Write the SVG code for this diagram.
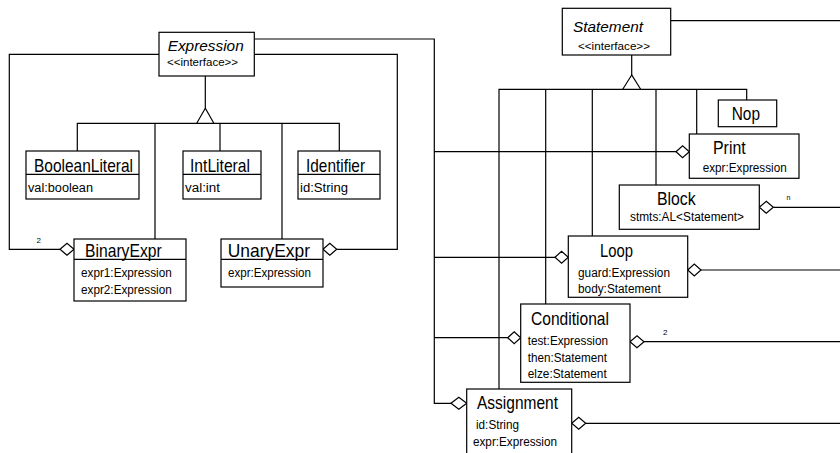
<svg xmlns="http://www.w3.org/2000/svg" width="840" height="453" viewBox="0 0 840 453">
<style>
.bg{fill:#fff}
.box{fill:#fff;stroke:#000;stroke-width:1.2}
.ln{fill:none;stroke:#000;stroke-width:1.2}
.dia{fill:#fff;stroke:#000;stroke-width:1.2}
.tri{fill:#fff;stroke:#000;stroke-width:1.2}
text{font-family:"Liberation Sans",Arial,sans-serif;fill:#000}
.t{font-size:19px}
.it{font-size:15.5px;font-style:italic}
.st{font-size:11.5px}
.a{font-size:12.5px}
.m{font-size:8px}
</style>
<rect class="bg" x="0" y="0" width="840" height="453"/>
<g id="connectors">
  <!-- Expression generalization -->
  <path class="ln" d="M205.3,76 V108.3 M77.3,151 V123.3 H339.3 V151 M155,123.3 V239 M220,123.3 V151 M282,123.3 V239"/>
  <polygon class="tri" points="205.3,108.3 196.7,123.3 213.9,123.3"/>
  <!-- BinaryExpr aggregation -->
  <path class="ln" d="M159,54.3 H9.3 V249.3 H60"/>
  <polygon class="dia" points="60,249.3 67,243.3 74,249.3 67,255.3"/>
  <text class="m" x="36.5" y="243">2</text>
  <!-- UnaryExpr aggregation -->
  <path class="ln" d="M254.3,54.3 H397.3 V249.3 H336.7"/>
  <polygon class="dia" points="323,249.3 329.8,243.3 336.7,249.3 329.8,255.3"/>
  <!-- Expression to statements -->
  <path class="ln" d="M254.3,39 H434.3 V403.3 H451 M434.3,151.7 H676 M434.3,257.3 H555 M434.3,337.7 H507.7"/>
  <polygon class="dia" points="676,151.7 682.6,145.8 689.3,151.7 682.6,157.6"/>
  <polygon class="dia" points="555,257.3 561.6,251.3 568.3,257.3 561.6,263.3"/>
  <polygon class="dia" points="507.7,337.7 514.2,331.7 520.7,337.7 514.2,343.7"/>
  <polygon class="dia" points="451,403.3 458.8,397.3 466.7,403.3 458.8,409.3"/>
  <!-- Statement generalization -->
  <path class="ln" d="M631.7,55 V75 M499,389 V89.3 H746.7 V100 M545.7,89.3 V304 M592.3,89.3 V236 M656,89.3 V185 M696.7,89.3 V134"/>
  <polygon class="tri" points="631.7,75 622.7,89.3 640.7,89.3"/>
  <!-- Statement aggregations (to the right edge) -->
  <path class="ln" d="M670.7,20.7 H840 M773.3,207.3 H840 M701,270 H840 M644,341.7 H840 M585.7,423.3 H840"/>
  <polygon class="dia" points="759.3,207.3 766.3,201.3 773.3,207.3 766.3,213.3"/>
  <polygon class="dia" points="687.7,270 694.3,264 701,270 694.3,276"/>
  <polygon class="dia" points="630,341.7 637,335.7 644,341.7 637,347.7"/>
  <polygon class="dia" points="571.7,423.3 578.7,417.3 585.7,423.3 578.7,429.3"/>
  <text class="m" x="786.5" y="200" style="font-size:7px">n</text>
  <text class="m" x="663" y="335">2</text>
</g>
<g id="Expression">
  <rect class="box" x="159" y="32.3" width="95.3" height="43.7"/>
  <text class="it" x="167.7" y="51" textLength="76" lengthAdjust="spacingAndGlyphs">Expression</text>
  <text class="st" x="167" y="66" textLength="71" lengthAdjust="spacingAndGlyphs">&lt;&lt;interface&gt;&gt;</text>
</g>
<g id="BooleanLiteral">
  <rect class="box" x="26" y="151" width="113" height="48"/>
  <line class="ln" x1="26" y1="174.3" x2="139" y2="174.3"/>
  <text class="t" x="34" y="172" textLength="99" lengthAdjust="spacingAndGlyphs">BooleanLiteral</text>
  <text class="a" x="28" y="192" textLength="65" lengthAdjust="spacingAndGlyphs">val:boolean</text>
</g>
<g id="IntLiteral">
  <rect class="box" x="183" y="151" width="78" height="48"/>
  <line class="ln" x1="183" y1="174.3" x2="261" y2="174.3"/>
  <text class="t" x="190" y="172" textLength="60" lengthAdjust="spacingAndGlyphs">IntLiteral</text>
  <text class="a" x="185" y="192" textLength="35" lengthAdjust="spacingAndGlyphs">val:int</text>
</g>
<g id="Identifier">
  <rect class="box" x="298" y="151" width="82" height="48"/>
  <line class="ln" x1="298" y1="174.3" x2="380" y2="174.3"/>
  <text class="t" x="306" y="172" textLength="59" lengthAdjust="spacingAndGlyphs">Identifier</text>
  <text class="a" x="300" y="192" textLength="48" lengthAdjust="spacingAndGlyphs">id:String</text>
</g>
<g id="BinaryExpr">
  <rect class="box" x="74" y="239" width="112" height="62"/>
  <line class="ln" x1="74" y1="259.3" x2="186" y2="259.3"/>
  <text class="t" x="85" y="256.7" textLength="76.7" lengthAdjust="spacingAndGlyphs">BinaryExpr</text>
  <text class="a" x="81" y="277" textLength="90.7" lengthAdjust="spacingAndGlyphs">expr1:Expression</text>
  <text class="a" x="81" y="294" textLength="90.7" lengthAdjust="spacingAndGlyphs">expr2:Expression</text>
</g>
<g id="UnaryExpr">
  <rect class="box" x="221" y="239" width="102" height="48"/>
  <line class="ln" x1="221" y1="259.3" x2="323" y2="259.3"/>
  <text class="t" x="227.7" y="256.7" textLength="82.3" lengthAdjust="spacingAndGlyphs">UnaryExpr</text>
  <text class="a" x="228" y="277" textLength="83" lengthAdjust="spacingAndGlyphs">expr:Expression</text>
</g>
<g id="Statement">
  <rect class="box" x="562.3" y="8.3" width="108.4" height="46.7"/>
  <text class="it" x="573" y="31.5" textLength="70" lengthAdjust="spacingAndGlyphs">Statement</text>
  <text class="st" x="578" y="50" textLength="72" lengthAdjust="spacingAndGlyphs">&lt;&lt;interface&gt;&gt;</text>
</g>
<g id="Nop">
  <rect class="box" x="718.3" y="100" width="58.4" height="26.7"/>
  <text class="t" x="731.7" y="120" textLength="28.3" lengthAdjust="spacingAndGlyphs">Nop</text>
</g>
<g id="Print">
  <rect class="box" x="689.3" y="134" width="109.7" height="44.3"/>
  <text class="t" x="713" y="154.3" textLength="32.7" lengthAdjust="spacingAndGlyphs">Print</text>
  <text class="a" x="702.7" y="171.7" textLength="84" lengthAdjust="spacingAndGlyphs">expr:Expression</text>
</g>
<g id="Block">
  <rect class="box" x="619.3" y="185" width="140" height="44.3"/>
  <text class="t" x="657" y="205" textLength="38.7" lengthAdjust="spacingAndGlyphs">Block</text>
  <text class="a" x="630" y="221" textLength="114" lengthAdjust="spacingAndGlyphs">stmts:AL&lt;Statement&gt;</text>
</g>
<g id="Loop">
  <rect class="box" x="568.3" y="236" width="119.4" height="61.3"/>
  <text class="t" x="600" y="257.3" textLength="33" lengthAdjust="spacingAndGlyphs">Loop</text>
  <text class="a" x="578" y="276.7" textLength="92" lengthAdjust="spacingAndGlyphs">guard:Expression</text>
  <text class="a" x="578" y="292.7" textLength="82.7" lengthAdjust="spacingAndGlyphs">body:Statement</text>
</g>
<g id="Conditional">
  <rect class="box" x="520.7" y="304" width="109.3" height="78.3"/>
  <text class="t" x="531" y="325" textLength="78" lengthAdjust="spacingAndGlyphs">Conditional</text>
  <text class="a" x="527.7" y="345" textLength="80.3" lengthAdjust="spacingAndGlyphs">test:Expression</text>
  <text class="a" x="527.7" y="361.7" textLength="79.3" lengthAdjust="spacingAndGlyphs">then:Statement</text>
  <text class="a" x="527.7" y="378.3" textLength="79" lengthAdjust="spacingAndGlyphs">elze:Statement</text>
</g>
<g id="Assignment">
  <rect class="box" x="466.7" y="389" width="105" height="80"/>
  <text class="t" x="477" y="408.5" textLength="81" lengthAdjust="spacingAndGlyphs">Assignment</text>
  <text class="a" x="476" y="429.3" textLength="43" lengthAdjust="spacingAndGlyphs">id:String</text>
  <text class="a" x="473" y="445.5" textLength="84" lengthAdjust="spacingAndGlyphs">expr:Expression</text>
</g>
</svg>
